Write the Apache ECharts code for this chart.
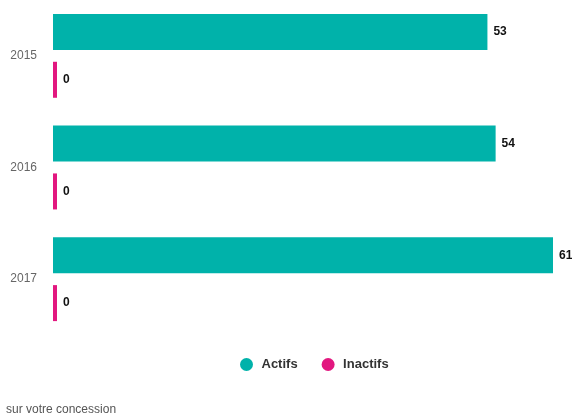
<!DOCTYPE html>
<html>
<head>
<meta charset="utf-8">
<script src="https://cdn.jsdelivr.net/npm/echarts@6/dist/echarts.min.js"></script>
<style>html,body{margin:0;padding:0;background:#fff}#c{width:572px;height:414px}</style>
</head>
<body>
<div id="c"></div>
<script>
var categories = ['2015', '2016', '2017'];
var actifs = [53, 54, 61];
var inactifs = [0, 0, 0];
var seriesNames = ['Actifs', 'Inactifs'];
var footnote = 'sur votre concession';

var chart = echarts.init(document.getElementById('c'), null, {renderer: 'canvas'});
var labelStyle = {show: true, position: 'right', distance: 6, fontFamily: 'Liberation Sans, Arial, sans-serif', fontWeight: 'bold', fontSize: 12, color: '#111'};
chart.setOption({
  animation: false,
  color: ['#00b2aa', '#e2177f'],
  grid: {left: 53, right: 19, top: -2, height: 337},
  xAxis: {type: 'value', min: 0, max: 'dataMax', show: false},
  yAxis: {
    type: 'category', data: categories, inverse: true,
    axisLine: {show: false}, axisTick: {show: false},
    axisLabel: {margin: 16, color: '#666', fontSize: 12, fontFamily: 'Liberation Sans, Arial, sans-serif'}
  },
  legend: {
    data: seriesNames, left: 235, top: 353, icon: 'circle', itemWidth: 20, itemHeight: 13, itemGap: 24,
    textStyle: {fontFamily: 'Liberation Sans, Arial, sans-serif', fontWeight: 'bold', fontSize: 13, color: '#333'}
  },
  title: {
    text: footnote, left: 1, top: 399,
    textStyle: {fontFamily: 'Liberation Sans, Arial, sans-serif', fontWeight: 'normal', fontSize: 12, color: '#555'}
  },
  series: [
    {name: seriesNames[0], type: 'bar', data: actifs, barWidth: 36, barGap: '33%', label: labelStyle},
    {name: seriesNames[1], type: 'bar', data: inactifs, barWidth: 36, barMinHeight: 4, label: labelStyle}
  ]
});
</script>
</body>
</html>
